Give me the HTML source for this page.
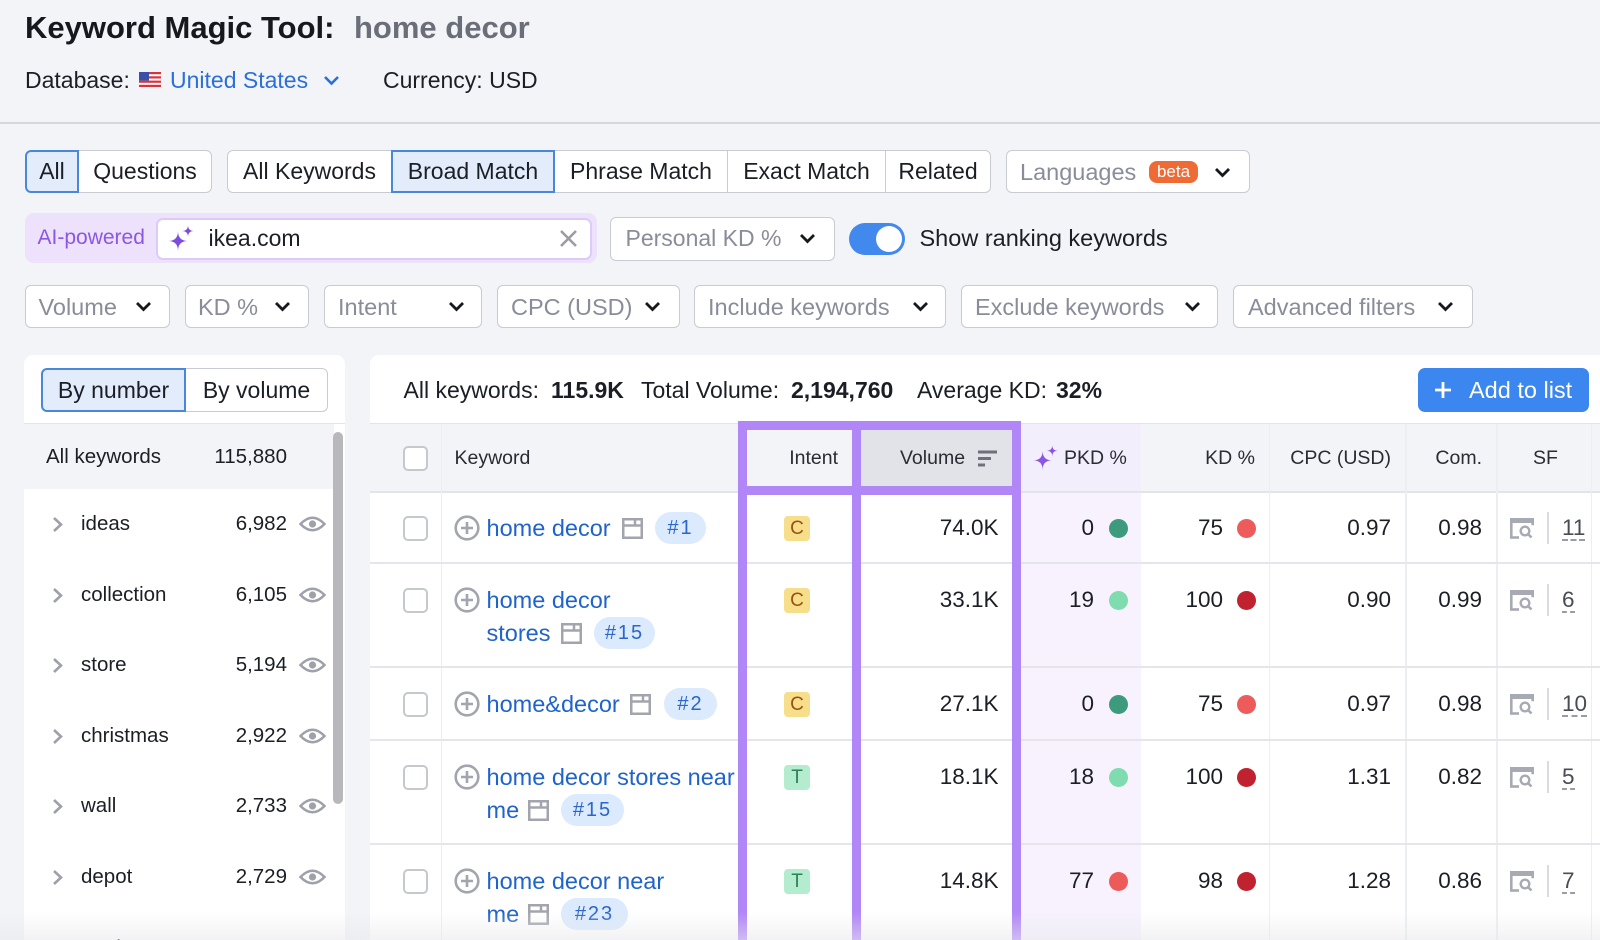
<!DOCTYPE html>
<html><head><meta charset="utf-8"><style>
*{margin:0;padding:0;box-sizing:border-box}
html,body{width:1600px;height:940px;overflow:hidden}
body{position:relative;background:#f3f4f8;font-family:"Liberation Sans",Arial,sans-serif;color:#1c1e25}
.a{position:absolute}
.tx{position:absolute;white-space:nowrap;height:30px;line-height:30px}
.tab{position:absolute;top:150px;height:43px;background:#fff;border:1.5px solid #c9cbd3;display:flex;align-items:center;justify-content:center;font-size:23px;white-space:nowrap;color:#1c1e25}
.sel{background:#e2ecfb;border:2px solid #4a86d9;z-index:2}
.flt{position:absolute;top:285px;height:43px;background:#fff;border:1.5px solid #c9cbd3;border-radius:6px}
.fl{position:absolute;white-space:nowrap;height:30px;line-height:30px;top:291.5px;font-size:23.5px;color:#8a8d99}
.cb{position:absolute;width:25px;height:25px;border:2px solid #c6c8d0;border-radius:5px;background:#fff}
.lk{position:absolute;white-space:nowrap;height:30px;line-height:30px;font-size:23.5px;color:#1f63cc}
.bd{position:absolute;height:32px;border-radius:16px;background:#dbeafd;color:#2a66cc;font-size:20px;line-height:32px;text-align:center;letter-spacing:2px}
.ib{position:absolute;width:26px;height:25px;border-radius:4px;font-size:19px;line-height:25px;text-align:center}
.ic{background:#f7de8a;color:#9a5212}
.it{background:#b4ecd0;color:#2d7f57}
.nv{position:absolute;white-space:nowrap;height:30px;line-height:30px;font-size:22.5px;color:#1c1e25}
.dot{position:absolute;width:19px;height:19px;border-radius:50%}
.hl{position:absolute;left:370px;width:1240px;height:2px;background:#e5e6eb}
.vl{position:absolute;width:1.5px;background:#eceef2}
.hd{position:absolute;white-space:nowrap;height:30px;line-height:30px;top:443px;font-size:19.5px;color:#2a2c33}
.pv{position:absolute;background:#b186f6;z-index:5}
.sfn{position:absolute;white-space:nowrap;height:26px;line-height:26px;font-size:22.5px;color:#4a4c55;border-bottom:2px dashed #9a9ca5}
.sfd{position:absolute;left:1547px;width:2px;height:32px;background:#d9dbe0}
.ln{position:absolute;white-space:nowrap;height:30px;line-height:30px;font-size:20.5px;color:#1c1e25}
</style></head><body>

<!-- Header -->
<div class="tx" style="left:25px;top:8px;height:40px;line-height:40px;font-size:31px;font-weight:bold;color:#16181d">Keyword Magic Tool:</div>
<div class="tx" style="left:354px;top:8px;height:40px;line-height:40px;font-size:31px;font-weight:bold;color:#6b6d78">home decor</div>

<div class="tx" style="left:25px;top:64.5px;font-size:23px;color:#1c1e25">Database:</div>
<svg class="a" style="left:139px;top:72px" width="22" height="15" viewBox="0 0 22 15">
<rect width="22" height="15" fill="#fff"/>
<g fill="#d8323c"><rect y="0" width="22" height="2.2"/><rect y="4.3" width="22" height="2.2"/><rect y="8.6" width="22" height="2.2"/><rect y="12.8" width="22" height="2.2"/></g>
<rect width="10" height="8.6" fill="#3a4fa8"/>
</svg>
<div class="tx" style="left:170px;top:64.5px;font-size:23px;color:#2b6fd8">United States</div>
<svg class="a" style="left:323px;top:75px" width="17" height="11"><polyline points="2,2 8.5,8.5 15,2" fill="none" stroke="#2b6fd8" stroke-width="2.6"/></svg>
<div class="tx" style="left:383px;top:64.5px;font-size:23px;color:#1c1e25">Currency: USD</div>

<div class="a" style="left:0;top:121.5px;width:1600px;height:2px;background:#d6d7dd"></div>

<!-- Tabs row -->
<div class="tab sel" style="left:25px;width:54px;border-radius:6px 0 0 6px">All</div>
<div class="tab" style="left:78px;width:134px;border-radius:0 6px 6px 0">Questions</div>

<div class="tab" style="left:227px;width:165px;border-radius:6px 0 0 6px">All Keywords</div>
<div class="tab sel" style="left:391px;width:164px">Broad Match</div>
<div class="tab" style="left:554px;width:174px">Phrase Match</div>
<div class="tab" style="left:727px;width:159px">Exact Match</div>
<div class="tab" style="left:885px;width:106px;border-radius:0 6px 6px 0">Related</div>

<div class="tab" style="left:1006px;width:244px;border-radius:6px"></div>
<div class="tx" style="left:1020px;top:156.5px;font-size:23.5px;color:#8a8d99;z-index:3">Languages</div>
<div class="a" style="left:1149px;top:161px;width:49px;height:22px;border-radius:8px;background:#ef6b35;color:#fff;font-size:17px;line-height:22px;text-align:center;z-index:3">beta</div>
<svg class="a" style="left:1214px;top:166.5px;z-index:3" width="17" height="11"><polyline points="2,2 8.5,8.5 15,2" fill="none" stroke="#16181d" stroke-width="2.8"/></svg>

<!-- Row 2 -->
<div class="a" style="left:25px;top:213px;width:572px;height:50px;background:#ede1fc;border-radius:9px"></div>
<div class="tx" style="left:37.5px;top:223px;font-size:21px;color:#8b57e3">AI-powered</div>
<div class="a" style="left:156px;top:218px;width:436px;height:42px;background:#fff;border:2px solid #dccbf9;border-radius:7px"></div>
<svg class="a" style="left:168px;top:225px" width="26" height="26" viewBox="0 0 26 26">
<path d="M10 6 Q10 16 20 16 Q10 16 10 26 Q10 16 0 16 Q10 16 10 6Z" fill="#7c4ddb"/>
<path d="M20 0 Q20 6 26 6 Q20 6 20 12 Q20 6 14 6 Q20 6 20 0Z" fill="#7c4ddb"/>
</svg>
<div class="tx" style="left:208.5px;top:223px;font-size:23px;color:#1c1e25">ikea.com</div>
<svg class="a" style="left:559px;top:229px" width="19" height="19"><path d="M2 2L17 17M17 2L2 17" stroke="#9a9ca5" stroke-width="2.6"/></svg>

<div class="a" style="left:610px;top:217px;width:225px;height:44px;background:#fff;border:1.5px solid #c9cbd3;border-radius:6px"></div>
<div class="tx" style="left:625.5px;top:223px;font-size:23px;color:#8a8d99">Personal KD %</div>
<svg class="a" style="left:799px;top:233px" width="17" height="11"><polyline points="2,2 8.5,8.5 15,2" fill="none" stroke="#16181d" stroke-width="2.8"/></svg>

<div class="a" style="left:849px;top:223px;width:56px;height:32px;border-radius:16px;background:#4289ee"></div>
<div class="a" style="left:876px;top:226px;width:26px;height:26px;border-radius:50%;background:#fff"></div>
<div class="tx" style="left:919.5px;top:223px;font-size:23.5px;color:#1c1e25">Show ranking keywords</div>

<!-- Filters row -->
<div class="flt" style="left:25px;width:145px"></div>
<div class="fl" style="left:38.5px">Volume</div>
<div class="flt" style="left:185px;width:124px"></div>
<div class="fl" style="left:198px">KD %</div>
<div class="flt" style="left:323.5px;width:158px"></div>
<div class="fl" style="left:338px">Intent</div>
<div class="flt" style="left:497px;width:183px"></div>
<div class="fl" style="left:511px">CPC (USD)</div>
<div class="flt" style="left:694px;width:252px"></div>
<div class="fl" style="left:708px">Include keywords</div>
<div class="flt" style="left:961px;width:257px"></div>
<div class="fl" style="left:975px">Exclude keywords</div>
<div class="flt" style="left:1233px;width:240px"></div>
<div class="fl" style="left:1248px">Advanced filters</div>
<svg class="a" style="left:135px;top:301px" width="17" height="11"><polyline points="2,2 8.5,8.5 15,2" fill="none" stroke="#16181d" stroke-width="2.8"/></svg>
<svg class="a" style="left:274px;top:301px" width="17" height="11"><polyline points="2,2 8.5,8.5 15,2" fill="none" stroke="#16181d" stroke-width="2.8"/></svg>
<svg class="a" style="left:448px;top:301px" width="17" height="11"><polyline points="2,2 8.5,8.5 15,2" fill="none" stroke="#16181d" stroke-width="2.8"/></svg>
<svg class="a" style="left:644px;top:301px" width="17" height="11"><polyline points="2,2 8.5,8.5 15,2" fill="none" stroke="#16181d" stroke-width="2.8"/></svg>
<svg class="a" style="left:912px;top:301px" width="17" height="11"><polyline points="2,2 8.5,8.5 15,2" fill="none" stroke="#16181d" stroke-width="2.8"/></svg>
<svg class="a" style="left:1184px;top:301px" width="17" height="11"><polyline points="2,2 8.5,8.5 15,2" fill="none" stroke="#16181d" stroke-width="2.8"/></svg>
<svg class="a" style="left:1437px;top:301px" width="17" height="11"><polyline points="2,2 8.5,8.5 15,2" fill="none" stroke="#16181d" stroke-width="2.8"/></svg>

<!-- Left panel -->
<div class="a" style="left:24px;top:355px;width:321px;height:600px;background:#fff;border-radius:9px"></div>
<div class="tab sel" style="left:41px;top:368px;width:145px;height:44px;border-radius:6px 0 0 6px">By number</div>
<div class="tab" style="left:185px;top:368px;width:143px;height:44px;border-radius:0 6px 6px 0">By volume</div>
<div class="a" style="left:24px;top:422.5px;width:321px;height:1.5px;background:#e3e4e9"></div>
<div class="a" style="left:24px;top:424px;width:310px;height:65px;background:#f3f4f8"></div>
<div class="ln" style="left:46px;top:442px">All keywords</div>
<div class="ln" style="right:1313px;top:442px">115,880</div>
<div class="a" style="left:333px;top:432px;width:10px;height:372px;border-radius:5px;background:#b8b8bc"></div>

<!-- left items -->
<svg class="a" style="left:52px;top:515.5px" width="12" height="17"><polyline points="2,2 9,8.5 2,15" fill="none" stroke="#9ea0aa" stroke-width="2.6"/></svg>
<div class="ln" style="left:81px;top:509px">ideas</div>
<div class="ln" style="right:1313px;top:509px">6,982</div>
<svg class="a" style="left:299px;top:515px" width="27" height="18"><path d="M1.5 9 Q13.5 -3.5 25.5 9 Q13.5 21.5 1.5 9Z" fill="none" stroke="#9ea0aa" stroke-width="2.5"/><circle cx="13.5" cy="9" r="3.6" fill="#9ea0aa"/></svg>

<svg class="a" style="left:52px;top:586.5px" width="12" height="17"><polyline points="2,2 9,8.5 2,15" fill="none" stroke="#9ea0aa" stroke-width="2.6"/></svg>
<div class="ln" style="left:81px;top:580px">collection</div>
<div class="ln" style="right:1313px;top:580px">6,105</div>
<svg class="a" style="left:299px;top:586px" width="27" height="18"><path d="M1.5 9 Q13.5 -3.5 25.5 9 Q13.5 21.5 1.5 9Z" fill="none" stroke="#9ea0aa" stroke-width="2.5"/><circle cx="13.5" cy="9" r="3.6" fill="#9ea0aa"/></svg>

<svg class="a" style="left:52px;top:656.5px" width="12" height="17"><polyline points="2,2 9,8.5 2,15" fill="none" stroke="#9ea0aa" stroke-width="2.6"/></svg>
<div class="ln" style="left:81px;top:650px">store</div>
<div class="ln" style="right:1313px;top:650px">5,194</div>
<svg class="a" style="left:299px;top:656px" width="27" height="18"><path d="M1.5 9 Q13.5 -3.5 25.5 9 Q13.5 21.5 1.5 9Z" fill="none" stroke="#9ea0aa" stroke-width="2.5"/><circle cx="13.5" cy="9" r="3.6" fill="#9ea0aa"/></svg>

<svg class="a" style="left:52px;top:727.5px" width="12" height="17"><polyline points="2,2 9,8.5 2,15" fill="none" stroke="#9ea0aa" stroke-width="2.6"/></svg>
<div class="ln" style="left:81px;top:721px">christmas</div>
<div class="ln" style="right:1313px;top:721px">2,922</div>
<svg class="a" style="left:299px;top:727px" width="27" height="18"><path d="M1.5 9 Q13.5 -3.5 25.5 9 Q13.5 21.5 1.5 9Z" fill="none" stroke="#9ea0aa" stroke-width="2.5"/><circle cx="13.5" cy="9" r="3.6" fill="#9ea0aa"/></svg>

<svg class="a" style="left:52px;top:797.5px" width="12" height="17"><polyline points="2,2 9,8.5 2,15" fill="none" stroke="#9ea0aa" stroke-width="2.6"/></svg>
<div class="ln" style="left:81px;top:791px">wall</div>
<div class="ln" style="right:1313px;top:791px">2,733</div>
<svg class="a" style="left:299px;top:797px" width="27" height="18"><path d="M1.5 9 Q13.5 -3.5 25.5 9 Q13.5 21.5 1.5 9Z" fill="none" stroke="#9ea0aa" stroke-width="2.5"/><circle cx="13.5" cy="9" r="3.6" fill="#9ea0aa"/></svg>

<svg class="a" style="left:52px;top:868.5px" width="12" height="17"><polyline points="2,2 9,8.5 2,15" fill="none" stroke="#9ea0aa" stroke-width="2.6"/></svg>
<div class="ln" style="left:81px;top:862px">depot</div>
<div class="ln" style="right:1313px;top:862px">2,729</div>
<svg class="a" style="left:299px;top:868px" width="27" height="18"><path d="M1.5 9 Q13.5 -3.5 25.5 9 Q13.5 21.5 1.5 9Z" fill="none" stroke="#9ea0aa" stroke-width="2.5"/><circle cx="13.5" cy="9" r="3.6" fill="#9ea0aa"/></svg>

<svg class="a" style="left:52px;top:939px" width="12" height="17"><polyline points="2,2 9,8.5 2,15" fill="none" stroke="#9ea0aa" stroke-width="2.6"/></svg>
<div class="ln" style="left:81px;top:933px">modern</div>
<div class="ln" style="right:1313px;top:933px">2,484</div>

<!-- Main panel -->
<div class="a" style="left:370px;top:355px;width:1240px;height:600px;background:#fff;border-radius:9px 0 0 0"></div>
<div class="tx" style="left:403.5px;top:375px;font-size:23px">All keywords:</div>
<div class="tx" style="left:551px;top:375px;font-size:23px;font-weight:bold">115.9K</div>
<div class="tx" style="left:641px;top:375px;font-size:23px">Total Volume:</div>
<div class="tx" style="left:791px;top:375px;font-size:23px;font-weight:bold">2,194,760</div>
<div class="tx" style="left:917px;top:375px;font-size:23px">Average KD:</div>
<div class="tx" style="left:1056px;top:375px;font-size:23px;font-weight:bold">32%</div>

<div class="a" style="left:1418px;top:368px;width:171px;height:44px;border-radius:7px;background:#3b87ef"></div>
<svg class="a" style="left:1435px;top:382px" width="16" height="16"><path d="M8 0v16M0 8h16" stroke="#fff" stroke-width="2.8"/></svg>
<div class="tx" style="left:1469px;top:375px;font-size:23.5px;color:#fff">Add to list</div>

<!-- table header -->
<div class="a" style="left:370px;top:422.5px;width:1240px;height:1.5px;background:#e3e4e9"></div>
<div class="a" style="left:370px;top:424px;width:1240px;height:68px;background:#f3f4f8"></div>
<div class="a" style="left:1021px;top:424px;width:120px;height:68px;background:#f2eefb"></div>
<div class="a" style="left:1021px;top:492px;width:120px;height:460px;background:#f7f2fe"></div>
<div class="a" style="left:861px;top:430px;width:151px;height:56px;background:#e2e3e9"></div>
<div class="a" style="left:370px;top:491px;width:1240px;height:2px;background:#e3e4e9"></div>

<div class="vl" style="left:440.5px;top:424px;height:520px"></div>
<div class="vl" style="left:1268.5px;top:424px;height:520px"></div>
<div class="vl" style="left:1405px;top:424px;height:520px"></div>
<div class="vl" style="left:1496px;top:424px;height:520px"></div>
<div class="vl" style="left:1590.5px;top:424px;height:520px"></div>

<div class="cb" style="left:403px;top:446px"></div>
<div class="hd" style="left:454.5px">Keyword</div>
<div class="hd" style="right:762px">Intent</div>
<div class="hd" style="left:900px">Volume</div>
<svg class="a" style="left:978px;top:450px" width="19" height="17"><path d="M0 2h19M0 8.5h13M0 15h7" stroke="#6e707c" stroke-width="3"/></svg>
<svg class="a" style="left:1033px;top:445px" width="25" height="25" viewBox="0 0 26 26">
<path d="M10 6 Q10 16 20 16 Q10 16 10 26 Q10 16 0 16 Q10 16 10 6Z" fill="#8a55e6"/>
<path d="M20 0 Q20 6 26 6 Q20 6 20 12 Q20 6 14 6 Q20 6 20 0Z" fill="#8a55e6"/>
</svg>
<div class="hd" style="left:1064px">PKD %</div>
<div class="hd" style="right:345px">KD %</div>
<div class="hd" style="right:209px">CPC (USD)</div>
<div class="hd" style="right:118px">Com.</div>
<div class="hd" style="left:1533px">SF</div>

<!-- row lines -->
<div class="hl" style="top:562px"></div>
<div class="hl" style="top:666px"></div>
<div class="hl" style="top:739px"></div>
<div class="hl" style="top:843px"></div>

<!-- Row 1 -->
<div class="cb" style="left:403px;top:515.5px"></div>
<svg class="a" style="left:454px;top:515px" width="26" height="26"><circle cx="13" cy="13" r="11.3" fill="none" stroke="#a3a5ae" stroke-width="2.6"/><path d="M13 7v12M7 13h12" stroke="#a3a5ae" stroke-width="2.6"/></svg>
<div class="lk" style="left:486.5px;top:513px">home decor</div>
<svg class="a" style="left:622px;top:518px" width="21" height="21"><rect x="1.25" y="1.25" width="18.5" height="18.5" fill="none" stroke="#a3a5ae" stroke-width="2.5"/><path d="M1 7.5h19M13 1v6.5" stroke="#a3a5ae" stroke-width="2.5"/></svg>
<div class="bd" style="left:655px;top:512px;width:51px">#1</div>
<div class="ib ic" style="left:784px;top:515.5px">C</div>
<div class="nv" style="right:601.5px;top:513px">74.0K</div>
<div class="nv" style="right:506px;top:513px">0</div>
<div class="dot" style="left:1109px;top:518.5px;background:#3e9a7c"></div>
<div class="nv" style="right:377px;top:513px">75</div>
<div class="dot" style="left:1237px;top:518.5px;background:#ee5b5b"></div>
<div class="nv" style="right:209px;top:513px">0.97</div>
<div class="nv" style="right:118px;top:513px">0.98</div>
<svg class="a" style="left:1509px;top:517px" width="26" height="22"><path d="M2.3 20.5V2.3h21.4v6" fill="none" stroke="#a8aab3" stroke-width="2.6"/><rect x="1" y="1" width="24" height="5" fill="#a8aab3"/><path d="M1 20.5h9" stroke="#a8aab3" stroke-width="2.6"/><circle cx="16" cy="14" r="4.3" fill="none" stroke="#a8aab3" stroke-width="2.4"/><path d="M19 17l3.5 3.5" stroke="#a8aab3" stroke-width="2.6"/></svg>
<div class="sfd" style="top:512px"></div>
<div class="sfn" style="left:1562px;top:515px">11</div>

<!-- Row 2 -->
<div class="cb" style="left:403px;top:587.5px"></div>
<svg class="a" style="left:454px;top:587px" width="26" height="26"><circle cx="13" cy="13" r="11.3" fill="none" stroke="#a3a5ae" stroke-width="2.6"/><path d="M13 7v12M7 13h12" stroke="#a3a5ae" stroke-width="2.6"/></svg>
<div class="lk" style="left:486.5px;top:585px">home decor</div>
<div class="lk" style="left:486.5px;top:618px">stores</div>
<svg class="a" style="left:561px;top:623px" width="21" height="21"><rect x="1.25" y="1.25" width="18.5" height="18.5" fill="none" stroke="#a3a5ae" stroke-width="2.5"/><path d="M1 7.5h19M13 1v6.5" stroke="#a3a5ae" stroke-width="2.5"/></svg>
<div class="bd" style="left:594px;top:617px;width:61px">#15</div>
<div class="ib ic" style="left:784px;top:587.5px">C</div>
<div class="nv" style="right:601.5px;top:585px">33.1K</div>
<div class="nv" style="right:506px;top:585px">19</div>
<div class="dot" style="left:1109px;top:590.5px;background:#7fdcae"></div>
<div class="nv" style="right:377px;top:585px">100</div>
<div class="dot" style="left:1237px;top:590.5px;background:#c0222f"></div>
<div class="nv" style="right:209px;top:585px">0.90</div>
<div class="nv" style="right:118px;top:585px">0.99</div>
<svg class="a" style="left:1509px;top:589px" width="26" height="22"><path d="M2.3 20.5V2.3h21.4v6" fill="none" stroke="#a8aab3" stroke-width="2.6"/><rect x="1" y="1" width="24" height="5" fill="#a8aab3"/><path d="M1 20.5h9" stroke="#a8aab3" stroke-width="2.6"/><circle cx="16" cy="14" r="4.3" fill="none" stroke="#a8aab3" stroke-width="2.4"/><path d="M19 17l3.5 3.5" stroke="#a8aab3" stroke-width="2.6"/></svg>
<div class="sfd" style="top:584px"></div>
<div class="sfn" style="left:1562px;top:587px">6</div>

<!-- Row 3 -->
<div class="cb" style="left:403px;top:691.5px"></div>
<svg class="a" style="left:454px;top:691px" width="26" height="26"><circle cx="13" cy="13" r="11.3" fill="none" stroke="#a3a5ae" stroke-width="2.6"/><path d="M13 7v12M7 13h12" stroke="#a3a5ae" stroke-width="2.6"/></svg>
<div class="lk" style="left:486.5px;top:689px">home&amp;decor</div>
<svg class="a" style="left:630px;top:694px" width="21" height="21"><rect x="1.25" y="1.25" width="18.5" height="18.5" fill="none" stroke="#a3a5ae" stroke-width="2.5"/><path d="M1 7.5h19M13 1v6.5" stroke="#a3a5ae" stroke-width="2.5"/></svg>
<div class="bd" style="left:664px;top:688px;width:53px">#2</div>
<div class="ib ic" style="left:784px;top:691.5px">C</div>
<div class="nv" style="right:601.5px;top:689px">27.1K</div>
<div class="nv" style="right:506px;top:689px">0</div>
<div class="dot" style="left:1109px;top:694.5px;background:#3e9a7c"></div>
<div class="nv" style="right:377px;top:689px">75</div>
<div class="dot" style="left:1237px;top:694.5px;background:#ee5b5b"></div>
<div class="nv" style="right:209px;top:689px">0.97</div>
<div class="nv" style="right:118px;top:689px">0.98</div>
<svg class="a" style="left:1509px;top:693px" width="26" height="22"><path d="M2.3 20.5V2.3h21.4v6" fill="none" stroke="#a8aab3" stroke-width="2.6"/><rect x="1" y="1" width="24" height="5" fill="#a8aab3"/><path d="M1 20.5h9" stroke="#a8aab3" stroke-width="2.6"/><circle cx="16" cy="14" r="4.3" fill="none" stroke="#a8aab3" stroke-width="2.4"/><path d="M19 17l3.5 3.5" stroke="#a8aab3" stroke-width="2.6"/></svg>
<div class="sfd" style="top:688px"></div>
<div class="sfn" style="left:1562px;top:691px">10</div>

<!-- Row 4 -->
<div class="cb" style="left:403px;top:764.5px"></div>
<svg class="a" style="left:454px;top:764px" width="26" height="26"><circle cx="13" cy="13" r="11.3" fill="none" stroke="#a3a5ae" stroke-width="2.6"/><path d="M13 7v12M7 13h12" stroke="#a3a5ae" stroke-width="2.6"/></svg>
<div class="lk" style="left:486.5px;top:762px">home decor stores near</div>
<div class="lk" style="left:486.5px;top:795px">me</div>
<svg class="a" style="left:528px;top:800px" width="21" height="21"><rect x="1.25" y="1.25" width="18.5" height="18.5" fill="none" stroke="#a3a5ae" stroke-width="2.5"/><path d="M1 7.5h19M13 1v6.5" stroke="#a3a5ae" stroke-width="2.5"/></svg>
<div class="bd" style="left:561px;top:794px;width:63px">#15</div>
<div class="ib it" style="left:784px;top:764.5px">T</div>
<div class="nv" style="right:601.5px;top:762px">18.1K</div>
<div class="nv" style="right:506px;top:762px">18</div>
<div class="dot" style="left:1109px;top:767.5px;background:#7fdcae"></div>
<div class="nv" style="right:377px;top:762px">100</div>
<div class="dot" style="left:1237px;top:767.5px;background:#c0222f"></div>
<div class="nv" style="right:209px;top:762px">1.31</div>
<div class="nv" style="right:118px;top:762px">0.82</div>
<svg class="a" style="left:1509px;top:766px" width="26" height="22"><path d="M2.3 20.5V2.3h21.4v6" fill="none" stroke="#a8aab3" stroke-width="2.6"/><rect x="1" y="1" width="24" height="5" fill="#a8aab3"/><path d="M1 20.5h9" stroke="#a8aab3" stroke-width="2.6"/><circle cx="16" cy="14" r="4.3" fill="none" stroke="#a8aab3" stroke-width="2.4"/><path d="M19 17l3.5 3.5" stroke="#a8aab3" stroke-width="2.6"/></svg>
<div class="sfd" style="top:761px"></div>
<div class="sfn" style="left:1562px;top:764px">5</div>

<!-- Row 5 -->
<div class="cb" style="left:403px;top:868.5px"></div>
<svg class="a" style="left:454px;top:868px" width="26" height="26"><circle cx="13" cy="13" r="11.3" fill="none" stroke="#a3a5ae" stroke-width="2.6"/><path d="M13 7v12M7 13h12" stroke="#a3a5ae" stroke-width="2.6"/></svg>
<div class="lk" style="left:486.5px;top:866px">home decor near</div>
<div class="lk" style="left:486.5px;top:899px">me</div>
<svg class="a" style="left:528px;top:904px" width="21" height="21"><rect x="1.25" y="1.25" width="18.5" height="18.5" fill="none" stroke="#a3a5ae" stroke-width="2.5"/><path d="M1 7.5h19M13 1v6.5" stroke="#a3a5ae" stroke-width="2.5"/></svg>
<div class="bd" style="left:561px;top:898px;width:67px">#23</div>
<div class="ib it" style="left:784px;top:868.5px">T</div>
<div class="nv" style="right:601.5px;top:866px">14.8K</div>
<div class="nv" style="right:506px;top:866px">77</div>
<div class="dot" style="left:1109px;top:871.5px;background:#ec5a5a"></div>
<div class="nv" style="right:377px;top:866px">98</div>
<div class="dot" style="left:1237px;top:871.5px;background:#c0222f"></div>
<div class="nv" style="right:209px;top:866px">1.28</div>
<div class="nv" style="right:118px;top:866px">0.86</div>
<svg class="a" style="left:1509px;top:870px" width="26" height="22"><path d="M2.3 20.5V2.3h21.4v6" fill="none" stroke="#a8aab3" stroke-width="2.6"/><rect x="1" y="1" width="24" height="5" fill="#a8aab3"/><path d="M1 20.5h9" stroke="#a8aab3" stroke-width="2.6"/><circle cx="16" cy="14" r="4.3" fill="none" stroke="#a8aab3" stroke-width="2.4"/><path d="M19 17l3.5 3.5" stroke="#a8aab3" stroke-width="2.6"/></svg>
<div class="sfd" style="top:865px"></div>
<div class="sfn" style="left:1562px;top:868px">7</div>

<!-- purple highlight boxes -->
<div class="pv" style="left:738px;top:421px;width:9px;height:530px"></div>
<div class="pv" style="left:852px;top:421px;width:9px;height:530px"></div>
<div class="pv" style="left:1012px;top:421px;width:9px;height:530px"></div>
<div class="pv" style="left:738px;top:421px;width:283px;height:9px"></div>
<div class="pv" style="left:738px;top:486px;width:283px;height:9px"></div>

<!-- bottom fade -->
<div class="a" style="left:0;top:912px;width:1600px;height:28px;background:linear-gradient(rgba(235,235,239,0),rgba(232,232,236,0.55));z-index:6"></div>

</body></html>
